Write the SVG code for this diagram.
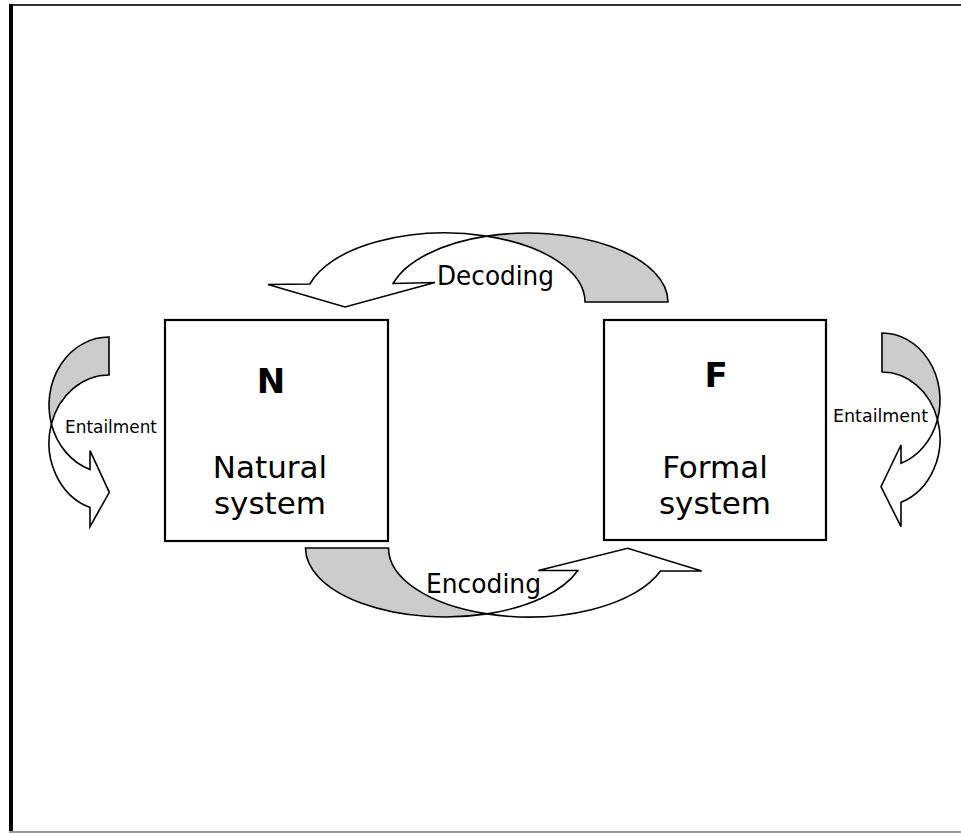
<svg xmlns="http://www.w3.org/2000/svg" width="961" height="833" viewBox="0 0 961 833">
<style>
.box{fill:#ffffff;stroke:#000000;stroke-width:2.2}
.front{fill:#ffffff;stroke:#000000;stroke-width:1.6;stroke-linejoin:miter}
.back{fill:#cccccc;stroke:#000000;stroke-width:1.6;stroke-linejoin:miter}
.big{font-family:"DejaVu Sans","Liberation Sans",sans-serif;font-size:31px;fill:#000000;text-anchor:middle}
.letter{font-family:"DejaVu Sans","Liberation Sans",sans-serif;font-weight:bold;font-size:34px;fill:#000000;text-anchor:middle}
.lbl{font-family:"DejaVu Sans","Liberation Sans",sans-serif;font-size:27px;fill:#000000}
.small{font-family:"DejaVu Sans","Liberation Sans",sans-serif;font-size:18px;fill:#000000}
</style>
<rect x="0" y="0" width="961" height="833" fill="#ffffff"/>
<g id="frame">
<line x1="9" y1="5" x2="961" y2="5" stroke="#333333" stroke-width="2"/>
<line x1="11" y1="4" x2="11" y2="833" stroke="#000000" stroke-width="4"/>
<line x1="9" y1="832" x2="961" y2="832" stroke="#999999" stroke-width="2"/>
</g>
<g id="node-N">
<rect class="box" x="165" y="320" width="223" height="221"/>
<text class="letter" x="271" y="393">N</text>
<text class="big" x="270" y="478">Natural</text>
<text class="big" x="270" y="514">system</text>
</g>
<g id="node-F">
<rect class="box" x="604" y="320" width="222" height="220"/>
<text class="letter" x="716" y="387">F</text>
<text class="big" x="715" y="478">Formal</text>
<text class="big" x="715" y="514">system</text>
</g>
<g id="connectors">
<g id="decoding">
<path class="back" d="M486.5,236.13 A140,69 0 0 1 668,302 L585,302 A140,69 0 0 0 486.5,236.13 Z"/>
<path class="front" d="M268,284.5 L309.85,284 A140,69 0 0 1 486.5,236.13 A140,69 0 0 0 393.13,283.5 L435,282.5 L345,307 Z"/>
<text class="lbl" x="437" y="285" textLength="117" lengthAdjust="spacingAndGlyphs">Decoding</text>
</g>
<g id="encoding">
<path class="back" d="M305.5,548 A140,69 0 0 0 487,613.87 A140,69 0 0 1 388.5,548 Z"/>
<path class="front" d="M487,613.87 A140,69 0 0 0 577.85,570.5 L538.3,570.5 L627.7,548.3 L701.7,571 L660.49,571 A140,69 0 0 1 487,613.87 Z"/>
<text class="lbl" x="426" y="593" textLength="115" lengthAdjust="spacingAndGlyphs">Encoding</text>
</g>
<g id="entailment-N">
<path class="back" d="M109,337 A60,68 0 0 0 51.39,424 A60,68 0 0 1 109,375 Z"/>
<path class="front" d="M51.39,424 A60,68 0 0 0 90,507.5 L90,526.7 L109.3,492.3 L90,450.7 L90,469.5 A60,68 0 0 1 51.39,424 Z"/>
<text class="small" x="65" y="433" textLength="92" lengthAdjust="spacingAndGlyphs">Entailment</text>
</g>
<g id="entailment-F">
<path class="back" d="M882,333 A58,67 0 0 1 937.49,419.5 A58,67 0 0 0 882,372 Z"/>
<path class="front" d="M937.49,419.5 A58,67 0 0 1 901,502.3 L901,526.7 L881,486.7 L901,445 L901,463.3 A58,67 0 0 0 937.49,419.5 Z"/>
<text class="small" x="833" y="421.5" textLength="95" lengthAdjust="spacingAndGlyphs">Entailment</text>
</g>
</g>
</svg>
